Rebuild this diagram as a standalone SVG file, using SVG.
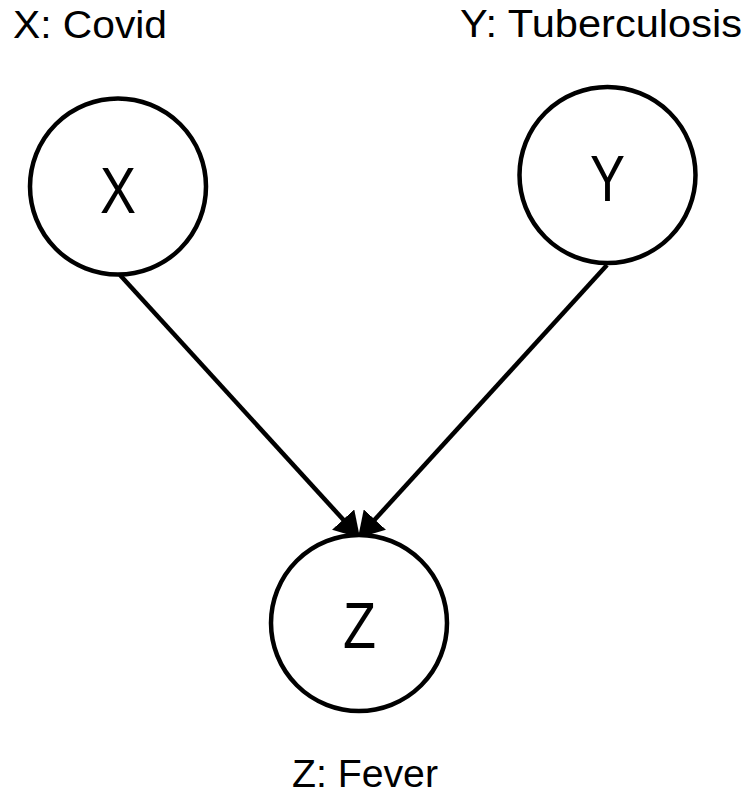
<svg xmlns="http://www.w3.org/2000/svg" width="751" height="796" viewBox="0 0 751 796">
  <style>
    .node circle { fill: #ffffff; stroke: #000000; stroke-width: 4.5; }
    .conn line { stroke: #000000; stroke-width: 4.5; }
    .lbl { font-family: "Liberation Sans", Arial, sans-serif; fill: #000000; }
    .title { font-size: 39px; }
    .letter { font-size: 65px; text-anchor: middle; }
  </style>
  <defs>
    <marker id="arrow" markerUnits="userSpaceOnUse" markerWidth="25" markerHeight="30" refX="25" refY="15" orient="auto" viewBox="0 0 25 30">
      <path d="M0,0 L25,15 L0,30 z" fill="#000000"/>
    </marker>
  </defs>
  <rect width="751" height="796" fill="#ffffff"/>
  <g id="connectors" class="conn">
    <line x1="120" y1="275" x2="360" y2="538" marker-end="url(#arrow)"/>
    <line x1="607" y1="265" x2="358" y2="538" marker-end="url(#arrow)"/>
  </g>
  <g id="node-X" class="node">
    <circle cx="118" cy="186.5" r="88"/>
    <text class="lbl letter" x="118" y="212.5" textLength="36" lengthAdjust="spacingAndGlyphs">X</text>
  </g>
  <g id="node-Y" class="node">
    <circle cx="607.5" cy="175" r="88"/>
    <text class="lbl letter" x="607.5" y="200.5" textLength="35" lengthAdjust="spacingAndGlyphs">Y</text>
  </g>
  <g id="node-Z" class="node">
    <circle cx="359" cy="623" r="88"/>
    <text class="lbl letter" x="359.5" y="648" textLength="33" lengthAdjust="spacingAndGlyphs">Z</text>
  </g>
  <g id="labels">
    <text class="lbl title" x="13" y="38" textLength="154" lengthAdjust="spacingAndGlyphs">X: Covid</text>
    <text class="lbl title" x="460" y="37" textLength="282" lengthAdjust="spacingAndGlyphs">Y: Tuberculosis</text>
    <text class="lbl title" x="292" y="787" textLength="146" lengthAdjust="spacingAndGlyphs">Z: Fever</text>
  </g>
</svg>
